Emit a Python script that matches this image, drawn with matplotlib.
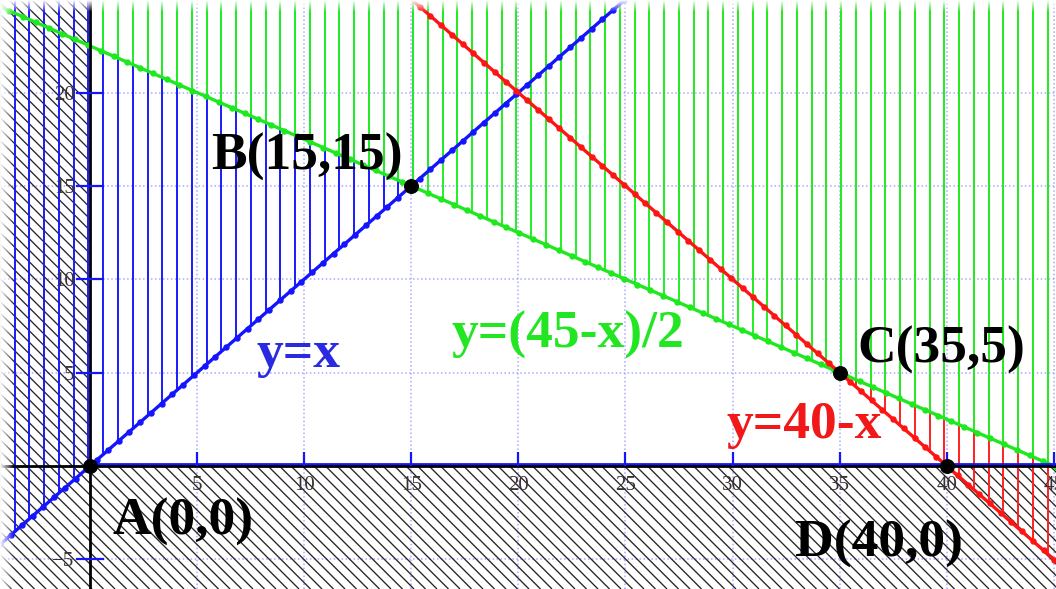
import numpy as np
import matplotlib.pyplot as plt
import matplotlib.transforms as mtransforms
from matplotlib.collections import LineCollection
from matplotlib.patches import Polygon

plt.rcParams['font.family'] = ['Liberation Serif', 'DejaVu Serif']

# vertices of the feasible region
vert_names = ["A", "B", "C", "D"]
vert_x = [0, 15, 35, 40]
vert_y = [0, 15, 5, 0]

# boundary lines y = m*x + b
line_labels = ["y=x", "y=(45-x)/2", "y=40-x"]
line_slopes = [1.0, -0.5, -1.0]
line_icepts = [0.0, 22.5, 40.0]

xticks = [5, 10, 15, 20, 25, 30, 35, 40, 45]
yticks = [-5, 5, 10, 15, 20]

# --- layout / style ---
XMIN, XMAX = -4.2, 45.1
YMIN, YMAX = -6.59, 24.96
W, H = 1056, 589
line_colors = ["#1414ff", "#1ee81e", "#ff1414"]
hatch_colors = ["#1a1aff", "#22f022", "#ff2020"]
text_colors = ["#2a2ae0", "#22e622", "#f01818"]
vert_lbl_pos = [(1.07, -3.70), (5.65, 15.86), (35.85, 5.52), (32.9, -4.87)]
line_lbl_pos = [(7.79, 5.30), (16.9, 6.32), (29.73, 1.50)]


def f(i, x):
    return line_slopes[i] * x + line_icepts[i]


fig = plt.figure(figsize=(W / 100, H / 100), dpi=100)
ax = fig.add_axes([0, 0, 1, 1])
ax.set_xlim(XMIN, XMAX)
ax.set_ylim(YMIN, YMAX)

# dotted grid
for t in xticks:
    ax.axvline(t, color="#a8a8ff", lw=1.1, ls=(0, (1, 1.6)), zorder=0.5)
for t in yticks:
    ax.axhline(t, color="#a8a8ff", lw=1.1, ls=(0, (1, 1.6)), zorder=0.5)

# black diagonal hatch on x<0 or y<0
step = 11.5 / W
segs = [[(u, 1), (u + H / W, 0)] for u in np.arange(-H / W - step, 1 + step, step)]
lc = LineCollection(segs, colors="#262626", linewidths=0.95, transform=ax.transAxes, zorder=1)
clip = Polygon([(-10, -10), (-10, 30), (0, 30), (0, 0), (50, 0), (50, -10)],
               closed=True, transform=ax.transData, facecolor="none", edgecolor="none")
ax.add_patch(clip)
ax.add_collection(lc)
lc.set_clip_path(clip)

# vertical hatching above each boundary line
hx = np.arange(0.62 - 7 * 0.689, XMAX + 0.5, 0.689)
m = f(0, hx) < YMAX
ax.vlines(hx[m], f(0, hx[m]), YMAX, color=hatch_colors[0], lw=1.4, zorder=2)
m = f(2, hx) < YMAX
ax.vlines(hx[m], f(2, hx[m]), YMAX, color=hatch_colors[2], lw=1.4, zorder=3)
m = hx > 0.1
ax.vlines(hx[m], f(1, hx[m]), YMAX, color=hatch_colors[1], lw=1.4, zorder=4)

# boundary lines (beaded)
xx = np.linspace(XMIN - 2, XMAX + 2, 3000)
for i in range(3):
    ax.plot(xx, f(i, xx), color=line_colors[i], lw=2.4, marker='o', ms=3.6,
            markevery=0.0118, zorder=5)

# blue boundary y=0 just above the x axis
up = mtransforms.offset_copy(ax.transData, fig=fig, x=0, y=2, units='dots')
ax.plot([0, XMAX + 1], [0, 0], color="#1414ff", lw=2, transform=up, zorder=5.5)

# axes through origin
for s in ["top", "right"]:
    ax.spines[s].set_visible(False)
for s in ["left", "bottom"]:
    ax.spines[s].set_position(("data", 0))
    ax.spines[s].set_linewidth(2)
    ax.spines[s].set_color("black")
    ax.spines[s].set_zorder(6)
ax.xaxis.set_zorder(6)
ax.yaxis.set_zorder(6)
ax.set_xticks(xticks)
ax.set_yticks(yticks)
ax.tick_params(axis='x', direction='in', length=10, width=1.6, color="#1414ff",
               pad=7, labelsize=15, labelcolor="#3a3230")
ax.tick_params(axis='y', direction='inout', length=20, width=1.6, color="#1414ff",
               pad=1, labelsize=15, labelcolor="#3a3230")

# vertices
ax.scatter(vert_x, vert_y, s=95, color="black", zorder=7)
for n, x, y, (lx, ly) in zip(vert_names, vert_x, vert_y, vert_lbl_pos):
    ax.text(lx, ly, f"{n}({x},{y})", fontsize=38.5, fontweight="bold", color="black",
            ha="left", va="baseline", zorder=8)

for lbl, c, (lx, ly) in zip(line_labels, text_colors, line_lbl_pos):
    ax.text(lx, ly, lbl, fontsize=38.5, fontweight="bold", color=c,
            ha="left", va="baseline", zorder=8)

# faded borders on left and top edges
fade_h = np.ones((1, 64, 4))
fade_h[..., 3] = np.linspace(1, 0, 64)
ax.imshow(fade_h, extent=[0, 14 / W, 0, 1], transform=ax.transAxes, aspect='auto', zorder=20)
fade_v = np.ones((64, 1, 4))
fade_v[..., 3] = np.linspace(1, 0, 64)[:, None]
ax.imshow(fade_v, extent=[0, 1, 1 - 12 / H, 1], transform=ax.transAxes, aspect='auto', zorder=20)
ax.set_xlim(XMIN, XMAX)
ax.set_ylim(YMIN, YMAX)

fig.savefig("out.png", dpi=100)
